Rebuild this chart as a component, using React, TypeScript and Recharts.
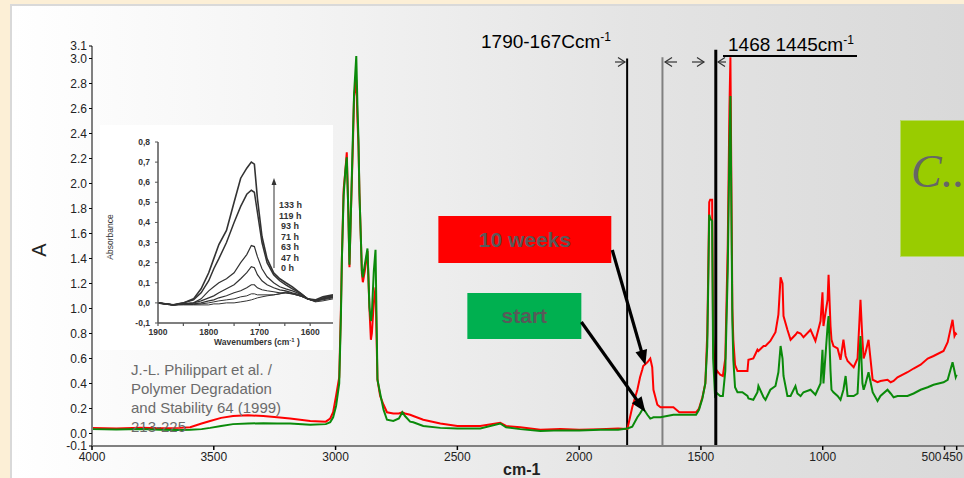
import React from 'react';
import { LineChart, Line, XAxis, YAxis, ReferenceLine, ReferenceArea } from 'recharts';

// ---------- main spectrum ----------
const wavenumbers = [4000,3900,3800,3720,3640,3597,3550,3515,3470,3421,3360,3297,3240,3187,3104,3040,3022,3010,2998,2985,2978,2974,2967,2960,2954,2948,2943,2938,2929,2924,2915,2910,2906,2902,2896,2892,2888,2880,2869,2861,2855,2851,2843,2836,2828,2817,2803,2789,2763,2740,2726,2715,2694,2681,2640,2570,2500,2406,2324,2300,2242,2159,2077,2000,1913,1840,1802,1782,1761,1750,1741,1737,1720,1708,1700,1695,1679,1666,1613,1589,1548,1520,1508,1494,1482,1474,1470,1466,1462,1454,1450,1442,1433,1421,1410,1400,1390,1383,1379,1371,1367,1360,1350,1330,1309,1305,1285,1268,1264,1243,1235,1215,1194,1182,1173,1165,1161,1145,1132,1112,1104,1091,1079,1050,1030,1009,1001,997,980,976,968,964,956,939,927,915,906,898,873,857,845,837,832,824,812,795,775,763,734,721,709,693,652,627,598,569,545,504,487,467,459,454,450];
const absorbance10Weeks = [0.045,0.04,0.045,0.042,0.045,0.05,0.08,0.1,0.125,0.14,0.145,0.14,0.13,0.12,0.1,0.095,0.12,0.17,0.3,0.45,1.0,1.41,1.95,2.1,2.25,1.8,1.33,1.7,2.3,2.7,2.83,2.5,2.3,1.92,1.55,1.28,1.21,1.3,1.46,1.0,0.75,0.8,1.05,1.17,0.43,0.3,0.23,0.17,0.16,0.16,0.17,0.16,0.15,0.14,0.11,0.08,0.06,0.06,0.085,0.06,0.05,0.03,0.035,0.03,0.035,0.04,0.036,0.21,0.35,0.45,0.51,0.54,0.57,0.6,0.53,0.35,0.23,0.21,0.21,0.17,0.17,0.17,0.2,0.29,0.4,0.8,1.3,1.85,1.87,1.87,0.78,0.45,0.5,0.47,0.46,0.6,1.5,2.6,3.01,1.0,0.75,0.55,0.5,0.5,0.5,0.59,0.6,0.67,0.66,0.7,0.7,0.74,0.81,0.95,1.25,1.2,0.94,0.83,0.75,0.79,0.81,0.8,0.77,0.83,0.74,0.9,1.13,0.86,1.07,1.27,0.86,0.75,0.7,0.68,0.59,0.75,0.62,0.58,0.53,0.6,1.07,0.75,0.6,0.65,0.75,0.43,0.41,0.42,0.43,0.41,0.42,0.45,0.49,0.52,0.55,0.6,0.62,0.66,0.73,0.91,0.78,0.8,0.79];
const absorbanceStart = [0.035,0.032,0.035,0.03,0.028,0.03,0.035,0.045,0.06,0.075,0.08,0.082,0.08,0.08,0.07,0.075,0.09,0.13,0.22,0.4,0.95,1.4,1.9,2.1,2.21,1.8,1.35,1.7,2.37,2.72,3.02,2.6,2.35,1.92,1.55,1.3,1.25,1.35,1.48,1.01,0.9,0.96,1.3,1.47,0.43,0.32,0.19,0.11,0.1,0.12,0.17,0.14,0.095,0.09,0.06,0.045,0.04,0.04,0.08,0.05,0.035,0.02,0.025,0.025,0.03,0.03,0.04,0.054,0.13,0.16,0.19,0.2,0.15,0.12,0.125,0.13,0.13,0.13,0.15,0.15,0.15,0.15,0.19,0.28,0.4,0.7,1.2,1.75,1.72,1.7,0.6,0.3,0.32,0.3,0.3,0.5,1.3,2.3,2.7,0.9,0.59,0.37,0.33,0.33,0.3,0.28,0.27,0.33,0.38,0.29,0.27,0.35,0.38,0.49,0.7,0.6,0.46,0.3,0.3,0.38,0.32,0.3,0.33,0.35,0.31,0.4,0.67,0.4,0.86,0.94,0.5,0.35,0.33,0.3,0.27,0.35,0.46,0.3,0.3,0.32,0.78,0.4,0.35,0.4,0.49,0.33,0.26,0.3,0.35,0.32,0.29,0.3,0.3,0.32,0.35,0.37,0.39,0.41,0.43,0.57,0.5,0.45,0.47];

const xTicks = [4000, 3500, 3000, 2500, 2000, 1500, 1000, 500, 450];
const yTicks = [-0.1, 0, 0.2, 0.4, 0.6, 0.8, 1.0, 1.2, 1.4, 1.6, 1.8, 2.0, 2.2, 2.4, 2.6, 2.8, 3.0, 3.1];

// ---------- inset (Philippart et al.) ----------
const insetWavenumbers = [1900,1870,1850,1830,1815,1800,1790,1780,1765,1750,1737,1725,1716,1710,1704,1695,1685,1672,1660,1648,1635,1620,1605,1590,1575,1555];
const inset133h = [0,-0.01,0,0.02,0.07,0.15,0.22,0.29,0.36,0.5,0.62,0.67,0.7,0.69,0.52,0.33,0.22,0.15,0.12,0.1,0.08,0.05,0.02,0.015,0.03,0.04];
const inset119h = [0,-0.01,0,0.015,0.05,0.11,0.17,0.22,0.3,0.4,0.48,0.54,0.56,0.55,0.45,0.3,0.2,0.14,0.11,0.09,0.07,0.05,0.02,0.01,0.025,0.035];
const inset93h = [0,-0.01,-0.005,0,0.02,0.06,0.08,0.1,0.12,0.15,0.2,0.24,0.285,0.28,0.23,0.17,0.13,0.1,0.08,0.07,0.06,0.045,0.02,0.01,0.02,0.03];
const inset71h = [0,-0.01,-0.005,0,0.01,0.025,0.035,0.05,0.07,0.09,0.12,0.15,0.18,0.175,0.14,0.11,0.09,0.075,0.065,0.06,0.05,0.04,0.02,0.01,0.02,0.03];
const inset63h = [0,-0.01,-0.005,-0.005,0,0.01,0.015,0.025,0.035,0.05,0.06,0.075,0.09,0.09,0.075,0.065,0.06,0.055,0.05,0.05,0.045,0.035,0.02,0.01,0.02,0.03];
const inset47h = [0,-0.01,-0.008,-0.008,-0.005,0,0.005,0.01,0.015,0.02,0.03,0.035,0.045,0.045,0.04,0.04,0.04,0.04,0.045,0.05,0.045,0.035,0.02,0.01,0.015,0.025];
const inset0h = [0,-0.01,-0.01,-0.01,-0.01,-0.01,-0.005,-0.005,0,0,0.005,0.01,0.015,0.02,0.025,0.03,0.035,0.04,0.045,0.055,0.045,0.035,0.02,0.005,0.01,0.02];
const insetSeries = [
  { key: 'h133', values: inset133h, width: 1.6 },
  { key: 'h119', values: inset119h, width: 1.5 },
  { key: 'h93', values: inset93h, width: 1.2 },
  { key: 'h71', values: inset71h, width: 1.2 },
  { key: 'h63', values: inset63h, width: 1.1 },
  { key: 'h47', values: inset47h, width: 1.0 },
  { key: 'h0', values: inset0h, width: 1.0 },
];
const insetLabels = ['133 h', '119 h', '93 h', '71 h', '63 h', '47 h', '0 h'];
const insetXTicks = [1900, 1850, 1800, 1750, 1700, 1650, 1600];
const insetYTicks = [-0.1, 0, 0.1, 0.2, 0.3, 0.4, 0.5, 0.6, 0.7, 0.8];

const mainData = wavenumbers.map((wn, i) => ({ wn, weeks10: absorbance10Weeks[i], start: absorbanceStart[i] }));
const insetData = insetWavenumbers.map((wn, i) => {
  const row: any = { wn };
  insetSeries.forEach((s) => { row[s.key] = s.values[i]; });
  return row;
});

const FONT = 'Arial, "Liberation Sans", Helvetica, sans-serif';

const ArrowShape = (props: any) => {
  const { x1, y1, x2, y2 } = props;
  if ([x1, y1, x2, y2].some((v) => typeof v !== 'number' || isNaN(v))) return <g />;
  const dx = x2 - x1;
  const dy = y2 - y1;
  const len = Math.hypot(dx, dy) || 1;
  const ux = dx / len;
  const uy = dy / len;
  const hl = 15;
  const hw = 6;
  const bx = x2 - ux * hl;
  const by = y2 - uy * hl;
  return (
    <g>
      <line x1={x1} y1={y1} x2={bx + ux * 2} y2={by + uy * 2} stroke="#000" strokeWidth={3.2} />
      <polygon points={`${x2},${y2} ${bx - uy * hw},${by + ux * hw} ${bx + uy * hw},${by - ux * hw}`} fill="#000" />
    </g>
  );
};

// the last two labels (500, 450) sit slightly left of their ticks in the original
const MainXTick = (props: any) => {
  const { x, y, payload } = props;
  const v = payload?.value;
  const shift = v === 500 ? -13 : v === 450 ? -4 : 0;
  return (
    <text x={x + shift} y={y} dy="0.71em" textAnchor="middle" fontSize={12} fill="#222" fontFamily={FONT}>{v}</text>
  );
};

function SmallArrow({ x, y, dir, shaft }: { x: number; y: number; dir: 1 | -1; shaft: number }) {
  return (
    <g stroke="#333" strokeWidth={1.2} fill="none">
      <line x1={x} y1={y} x2={x - dir * shaft} y2={y} />
      <polyline points={`${x - dir * 7},${y - 4.5} ${x},${y} ${x - dir * 7},${y + 4.5}`} />
    </g>
  );
}

export default function App() {
  return (
    <div style={{ position: 'fixed', left: 0, top: 0, width: 964, height: 478, background: '#fcefd6', overflow: 'hidden', fontFamily: FONT }}>
      <div style={{ position: 'absolute', left: 10, top: 4, right: 0, bottom: 0, borderLeft: '2px solid #d9d9d9', borderTop: '2px solid #d9d9d9', background: 'linear-gradient(to right, #ffffff 0%, #f4f4f4 30%, #e4e4e4 65%, #d9d9d9 100%)' }} />

      <div style={{ position: 'absolute', left: 0, top: 0 }}>
        <LineChart width={964} height={478} data={mainData} margin={{ top: 46, right: 0, bottom: 0, left: 0 }}>
          <XAxis
            type="number"
            dataKey="wn"
            domain={[420, 4000]}
            reversed
            ticks={xTicks}
            interval={0}
            height={32}
            axisLine={{ stroke: '#808080', strokeWidth: 2 }}
            tickLine={{ stroke: '#000', strokeWidth: 1.5 }}
            tickSize={4}
            tickMargin={2}
            tick={MainXTick}
          />
          <YAxis
            type="number"
            domain={[-0.1, 3.1]}
            ticks={yTicks}
            interval={0}
            width={92}
            axisLine={{ stroke: '#808080', strokeWidth: 2 }}
            tickLine={{ stroke: '#000', strokeWidth: 1 }}
            tickSize={3}
            tickMargin={2}
            tickFormatter={(v: number) => v.toFixed(1)}
            tick={{ fontSize: 12, fill: '#222', fontFamily: FONT }}
          />
          <ReferenceArea x1={2578} x2={1868} y1={1.364} y2={1.74} fill="#ff0000" fillOpacity={1} stroke="none"
            label={{ value: '10 weeks', position: 'center', fill: '#595959', fontSize: 21, fontWeight: 'bold', fontFamily: FONT }} />
          <ReferenceArea x1={2459} x2={1991} y1={0.756} y2={1.124} fill="#00b050" fillOpacity={1} stroke="none"
            label={{ value: 'start', position: 'center', fill: '#595959', fontSize: 21, fontWeight: 'bold', fontFamily: FONT }} />
          <ReferenceLine segment={[{ x: 1803, y: 3.0 }, { x: 1803, y: -0.1 }]} stroke="#000" strokeWidth={2} />
          <ReferenceLine segment={[{ x: 1658, y: 3.01 }, { x: 1658, y: -0.1 }]} stroke="#808080" strokeWidth={2} />
          <Line type="linear" dataKey="weeks10" stroke="#ff0000" strokeWidth={2} dot={false} isAnimationActive={false} />
          <Line type="linear" dataKey="start" stroke="#0a8a0a" strokeWidth={2} dot={false} isAnimationActive={false} />
          <ReferenceLine segment={[{ x: 1439, y: 3.07 }, { x: 1439, y: -0.1 }]} stroke="#000" strokeWidth={3} />
          <ReferenceLine segment={[{ x: 1864, y: 1.468 }, { x: 1728, y: 0.548 }]} shape={ArrowShape} />
          <ReferenceLine segment={[{ x: 1991, y: 0.892 }, { x: 1728, y: 0.172 }]} shape={ArrowShape} />
        </LineChart>
      </div>

      {/* inset figure */}
      <div style={{ position: 'absolute', left: 100, top: 125, width: 233, height: 225, background: '#ffffff' }}>
        <LineChart width={233} height={225} data={insetData} margin={{ top: 17, right: 0, bottom: 0, left: 0 }}>
          <XAxis
            type="number"
            dataKey="wn"
            domain={[1555, 1900]}
            reversed
            ticks={insetXTicks}
            interval={0}
            height={27}
            axisLine={{ stroke: '#555', strokeWidth: 1.5 }}
            tickLine={{ stroke: '#555', strokeWidth: 1.2 }}
            tickSize={3}
            tickMargin={3}
            tickFormatter={(v: number) => (v % 100 === 0 ? String(v) : '')}
            tick={{ fontSize: 8.5, fill: '#333', fontWeight: 700, fontFamily: FONT }}
          />
          <YAxis
            type="number"
            domain={[-0.1, 0.8]}
            ticks={insetYTicks}
            interval={0}
            width={58}
            axisLine={{ stroke: '#555', strokeWidth: 1.5 }}
            tickLine={{ stroke: '#555', strokeWidth: 1 }}
            tickSize={3}
            tickMargin={5}
            tickFormatter={(v: number) => v.toFixed(1).replace('.', ',')}
            tick={{ fontSize: 8.5, fill: '#333', fontWeight: 700, fontFamily: FONT }}
          />
          {insetSeries.map((s) => (
            <Line key={s.key} type="linear" dataKey={s.key} stroke="#333" strokeWidth={s.width} dot={false} isAnimationActive={false} />
          ))}
        </LineChart>
      </div>

      {/* green box on the right */}
      <div style={{ position: 'absolute', left: 900, top: 120, width: 80, height: 137, background: '#99cc00', border: '1px solid #b8d96a', boxSizing: 'border-box' }}>
        <div style={{ position: 'absolute', left: 10, top: 28, fontFamily: '"Liberation Serif", "DejaVu Serif", serif', fontStyle: 'italic', fontSize: 46, lineHeight: '46px', color: '#666', whiteSpace: 'nowrap' }}>C..</div>
      </div>

      <svg width={964} height={478} style={{ position: 'absolute', left: 0, top: 0, pointerEvents: 'none' }}>
        <text transform="translate(46,250) rotate(-90)" textAnchor="middle" fontSize={20} fill="#222" fontFamily={FONT}>A</text>
        <text x={503} y={475} fontSize={16} fontWeight="bold" fill="#222" fontFamily={FONT}>cm-1</text>

        <text x={481} y={48} fontSize={19} fill="#000" fontFamily={FONT}>
          1790-167Ccm<tspan fontSize={12} dy={-7}>-1</tspan>
        </text>
        <text x={728} y={51} fontSize={19} fill="#000" fontFamily={FONT}>
          1468 1445cm<tspan fontSize={12} dy={-7}>-1</tspan>
        </text>
        <line x1={723} y1={56} x2={857} y2={56} stroke="#000" strokeWidth={2} />
        <SmallArrow x={625} y={62} dir={1} shaft={10} />
        <SmallArrow x={665} y={62} dir={-1} shaft={12} />
        <SmallArrow x={704} y={62} dir={1} shaft={12} />
        <SmallArrow x={718} y={62} dir={-1} shaft={8} />

        <g fill="#6b6b6b" fontSize={15} fontFamily={FONT}>
          <text x={131} y={375}>J.-L. Philippart et al. /</text>
          <text x={131} y={394}>Polymer Degradation</text>
          <text x={131} y={413}>and Stability 64 (1999)</text>
          <text x={131} y={432}>213-225</text>
        </g>

        {/* inset annotations */}
        <text transform="translate(113,237) rotate(-90)" textAnchor="middle" fontSize={8.5} fill="#333" fontFamily={FONT}>Absorbance</text>
        <text x={257} y={345} textAnchor="middle" fontSize={8.5} fontWeight={700} fill="#333" fontFamily={FONT}>
          Wavenumbers (cm<tspan fontSize={6} dy={-3}>-1</tspan><tspan dy={3}> )</tspan>
        </text>
        <line x1={274} y1={268} x2={274} y2={184} stroke="#333" strokeWidth={1} />
        <polygon points="274,178 271.5,185 276.5,185" fill="#333" />
        <g fontSize={9} fontWeight={700} fill="#333" fontFamily={FONT}>
          {insetLabels.map((t, i) => (
            <text key={t} x={i < 2 ? 279 : 281} y={208 + i * 10.5}>{t}</text>
          ))}
        </g>
      </svg>
    </div>
  );
}
